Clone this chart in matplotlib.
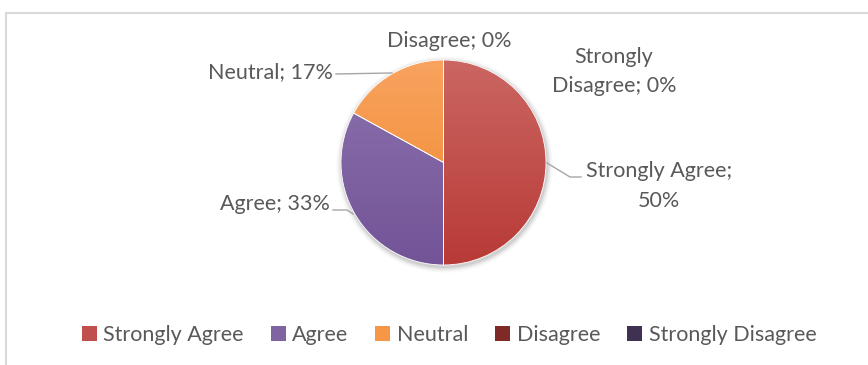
import numpy as np
import matplotlib
matplotlib.use("Agg")
import matplotlib.pyplot as plt
from matplotlib.patches import Wedge, Circle, Patch
from matplotlib.lines import Line2D

categories = ["Strongly Agree", "Agree", "Neutral", "Disagree", "Strongly Disagree"]
percentages = [50, 33, 17, 0, 0]
top_colors = ["#cb6662", "#8c72ae", "#f9a35f", "#8a3a37", "#4f416b"]
bottom_colors = ["#b83a36", "#735497", "#ee872b", "#752420", "#3b2d5a"]
legend_colors = ["#c0504d", "#8064a2", "#f79646", "#7f2a26", "#403152"]

W, H = 868, 365
fig = plt.figure(figsize=(W / 100, H / 100), dpi=100)
ax = fig.add_axes([0, 0, 1, 1])
ax.set_xlim(0, W)
ax.set_ylim(0, H)
ax.set_aspect("equal")
ax.axis("off")

text_color = "#595959"
line_color = "#a6a6a6"
font = "Lato"
fs = 15.5

def Y(py):
    return H - py

# chart frame (only top and left visible)
ax.plot([5, W], [Y(12.5), Y(12.5)], color="#d9d9d9", lw=1.5, solid_capstyle="butt")
ax.plot([5.5, 5.5], [Y(12.5), 0], color="#d9d9d9", lw=1.5, solid_capstyle="butt")

cx, cy, r = 443.5, Y(162.5), 102.5

# soft shadow around the pie
for i, a in enumerate(np.linspace(0.05, 0.012, 6)):
    ax.add_patch(Circle((cx + 1, cy - 2), r + 1 + i, color="black", alpha=a, lw=0, zorder=1))

def hex2rgb(h):
    h = h.lstrip("#")
    return np.array([int(h[i:i + 2], 16) / 255 for i in (0, 2, 4)])

total = sum(percentages)
theta = 90.0
for cat, val, ct, cb in zip(categories, percentages, top_colors, bottom_colors):
    span = 360.0 * val / total
    t2, t1 = theta, theta - span
    theta = t1
    if span <= 0:
        continue
    w = Wedge((cx, cy), r, t1, t2, facecolor="none", edgecolor="none", zorder=2)
    ax.add_patch(w)
    n = 256
    grad = np.linspace(0, 1, n)[:, None]
    img = (1 - grad) * hex2rgb(ct) + grad * hex2rgb(cb)
    img = np.repeat(img[:, None, :], 2, axis=1)
    im = ax.imshow(img, extent=(cx - r, cx + r, cy - r, cy + r), origin="upper",
                   interpolation="bilinear", zorder=2, aspect="auto")
    im.set_clip_path(w)
    # thin white separators
    ax.add_patch(Wedge((cx, cy), r, t1, t2, facecolor="none", edgecolor="white", lw=0.6, zorder=3))

ax.set_xlim(0, W)
ax.set_ylim(0, H)

def lab(i):
    return f"{categories[i]}; {percentages[i]}%"

# data labels
ax.text(449, Y(41), lab(3), ha="center", va="center", color=text_color, fontsize=fs, family=font)
ax.text(614, Y(71.5), "Strongly\n" + lab(4).replace("Strongly ", ""), ha="center", va="center",
        color=text_color, fontsize=fs, family=font, linespacing=1.55)
ax.text(659, Y(186), lab(0).replace(" 50%", "\n50%"), ha="center", va="center",
        color=text_color, fontsize=fs, family=font, linespacing=1.6)
ax.text(330, Y(204), lab(1), ha="right", va="center", color=text_color, fontsize=fs, family=font)
ax.text(333, Y(72), lab(2), ha="right", va="center", color=text_color, fontsize=fs, family=font)

# leader lines
ax.add_line(Line2D([336, 390, 392], [Y(74), Y(73), Y(73)], color=line_color, lw=1, zorder=4))
ax.add_line(Line2D([547, 570, 581], [Y(163), Y(177), Y(177)], color=line_color, lw=1, zorder=4))
ax.add_line(Line2D([333, 347, 353], [Y(210), Y(210), Y(214)], color=line_color, lw=1, zorder=4))

handles = [Patch(facecolor=c, edgecolor="none") for c in legend_colors]
leg = fig.legend(handles, categories, loc="center", bbox_to_anchor=(449 / W, 1 - 335 / H),
                 ncol=5, frameon=False, handlelength=0.7, handleheight=0.7, handletextpad=0.3,
                 columnspacing=1.25, prop={"family": font, "size": fs})
for t in leg.get_texts():
    t.set_color(text_color)

fig.savefig("out.png", dpi=100)
